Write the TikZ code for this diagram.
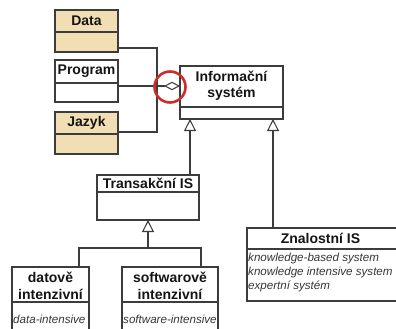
\documentclass[tikz,border=0pt]{standalone}
\usepackage{fontspec}
\setmainfont{Liberation Sans}
\usetikzlibrary{arrows.meta}
\definecolor{linec}{RGB}{60,60,60}
\definecolor{tanc}{RGB}{242,222,180}
\definecolor{redc}{RGB}{205,45,45}
\definecolor{txtc}{RGB}{20,20,20}
\begin{document}
\begin{tikzpicture}[x=1pt,y=-1pt,
  box/.style={draw=linec, line width=1.05pt, inner sep=0pt, outer sep=0pt},
  tanbox/.style={box, fill=tanc},
  ttl/.style={font=\fontsize{14}{16}\selectfont\bfseries, text=txtc, inner sep=0pt, align=center},
  itl/.style={font=\fontsize{11.6}{13.8}\selectfont\itshape, text=txtc!85, inner sep=0pt, align=left},
  conn/.style={draw=linec, line width=1.05pt},
  gen/.style={conn, -{Triangle[open, length=12pt, width=12pt]}},
  agg/.style={conn, -{Diamond[open, length=16pt, width=8.5pt]}}]
\useasboundingbox (0,0) rectangle (396,329);
\clip (0,0) rectangle (396,329);
\fill[white] (0,0) rectangle (396,329);
% boxes
\node[tanbox, minimum width=63pt, minimum height=42pt] (data) at (86.5,31) {};
\node[box, fill=white, minimum width=63pt, minimum height=42pt] (program) at (86.5,81) {};
\node[tanbox, minimum width=63pt, minimum height=42pt] (jazyk) at (86.5,133) {};
\node[box, fill=white, minimum width=103pt, minimum height=53pt] (info) at (231.5,92.5) {};
\node[box, fill=white, minimum width=102pt, minimum height=45pt] (trans) at (148,197.5) {};
\node[box, fill=white, minimum width=77pt, minimum height=80pt] (dat) at (50.5,307) {};
\node[box, fill=white, minimum width=96pt, minimum height=80pt] (soft) at (170,307) {};
\node[box, fill=white, minimum width=155pt, minimum height=73pt] (znal) at (324.5,264.5) {};
% dividers
\draw[conn] (data.west |- 0,32) -- (data.east |- 0,32);
\draw[conn] (program.west |- 0,83) -- (program.east |- 0,83);
\draw[conn] (jazyk.west |- 0,134) -- (jazyk.east |- 0,134);
\draw[conn] (info.west |- 0,107) -- (info.east |- 0,107);
\draw[conn] (trans.west |- 0,192) -- (trans.east |- 0,192);
\draw[conn] (dat.west |- 0,302) -- (dat.east |- 0,302);
\draw[conn] (soft.west |- 0,302) -- (soft.east |- 0,302);
\draw[conn] (znal.west |- 0,249) -- (znal.east |- 0,249);
% titles
\node[ttl] (tdata) at (86.5,21) {Data};
\node[ttl] (tprog) at (86.5,71.5) {Program};
\node[ttl] (tjaz) at (86.5,123) {Jazyk};
\node[ttl] (tinfo) at (231.5,86) {Informační\\systém};
\node[ttl] (ttrans) at (148,183.5) {Transakční IS};
\node[ttl, font=\fontsize{14}{17}\selectfont\bfseries] (tdat) at (50.5,286) {datově\\intenzivní};
\node[ttl, font=\fontsize{14}{17}\selectfont\bfseries] (tsoft) at (170,286) {softwarově\\intenzivní};
\node[ttl] (tznal) at (320.5,238.5) {Znalostní IS};
% italic texts
\node[itl, anchor=west] (idat) at (13,319) {data-intensive};
\node[itl, anchor=west] (isoft) at (123,319) {software-intensive};
\node[itl, anchor=north west] (iznal) at (248,253) {knowledge-based system\\knowledge intensive system\\expertní systém};
% connectors
\coordinate (dj) at (157,48);
\draw[conn] (data.east |- dj) -- (dj) -- (dj |- 0,132) -- (jazyk.east |- 0,132);
\draw[agg] (program.east |- 0,86) -- (info.west |- 0,86);
\draw[gen] (trans.north -| 190,0) -- (info.south -| 190,0);
\draw[gen] (znal.north -| 273,0) -- (info.south -| 273,0);
\coordinate (jn) at (148,248);
\draw[conn] (dat.north -| 79,0) -- (79,248) -- (201,248) -- (soft.north -| 201,0);
\draw[gen] (jn) -- (trans.south);
% red circle
\node[draw=redc, line width=2.6pt, circle, minimum size=31pt, inner sep=0pt] (hl) at (170,87) {};
\end{tikzpicture}
\end{document}
